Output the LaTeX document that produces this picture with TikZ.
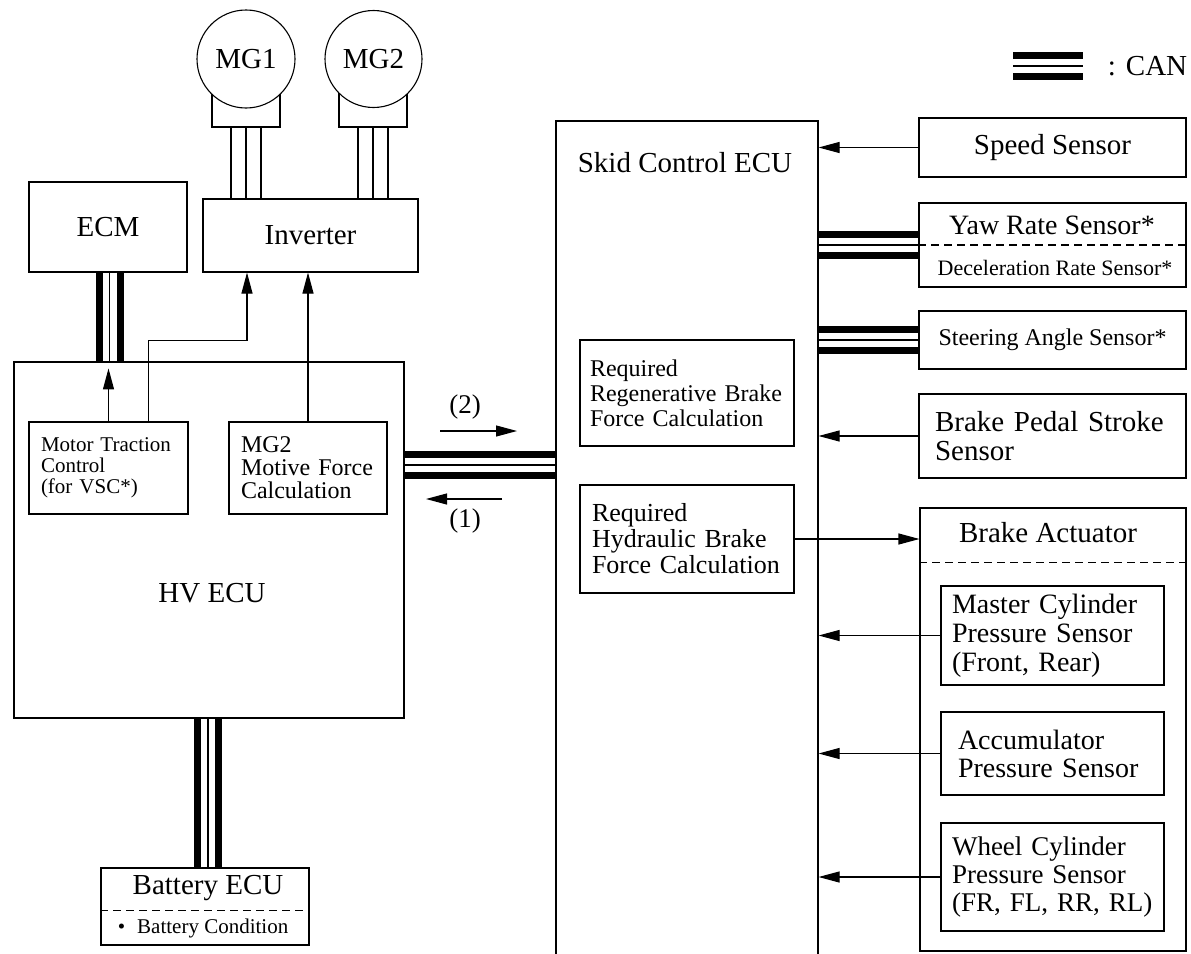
\documentclass[tikz,border=0pt]{standalone}
\usepackage{fontspec}
\setmainfont{Liberation Serif}
\usetikzlibrary{arrows.meta}
\tikzset{
  blk/.style={draw, line width=1.1pt, inner sep=0pt},
  fs/.style 2 args={font=\fontsize{#1}{#2}\selectfont},
  can/.style={line width=1.5pt, preaction={draw, line width=28pt}, preaction={draw, white, line width=14pt}},
  dashln/.style={line width=1.1pt, dash pattern=on 8pt off 5pt},
}
\begin{document}
\begin{tikzpicture}[x=1pt, y=-1pt, line width=1.1pt, >={Triangle[length=21pt,width=11pt]}]
  \useasboundingbox (0,0) rectangle (1191,953);

  \node[blk, minimum width=68pt, minimum height=47pt] (baseA) at (246,103.5) {};
  \node[blk, minimum width=68pt, minimum height=47pt] (baseB) at (373,103.5) {};
  \node[blk, circle, fill=white, minimum size=98pt, fs={29}{29}] (mgA) at (246,59) {MG1};
  \node[blk, circle, fill=white, minimum size=97pt, fs={29}{29}] (mgB) at (373.5,59) {MG2};
  \node[blk, minimum width=215pt, minimum height=73pt, fs={29}{29}] (inv) at (310.5,235.5) {Inverter};
  \foreach \m in {A,B}{
    \foreach \dx in {-15,0,15}{
      \draw ([xshift=\dx pt]base\m.south) -- ([xshift=\dx pt]base\m.south |- inv.north);
    }
  }

  \node[blk, minimum width=158pt, minimum height=90pt, fs={29}{29}] (ecm) at (108,227) {ECM};
  \node[blk, minimum width=390pt, minimum height=356pt] (hv) at (209,540) {};
  \node[fs={29}{29}] (hvT) at (212,593) {HV ECU};
  \node[blk, minimum width=159pt, minimum height=92pt, inner xsep=12pt, text width=135pt, align=left, fs={21}{21}] (mtc) at (108.5,468) {Motor Traction\\Control\\(for VSC*)};
  \node[blk, minimum width=158pt, minimum height=92pt, inner xsep=12pt, text width=134pt, align=left, fs={24}{23}] (mgf) at (308,468) {MG2\\Motive Force\\Calculation};

  \draw[can] ([xshift=1.5pt]ecm.south) -- ([xshift=1.5pt]ecm.south |- hv.north);
  \draw[->] (mtc.north) -- ([yshift=-7pt]mtc.north |- hv.north);
  \draw[->] ([xshift=40pt]mtc.north) -- ++(0,-81) -| ([xshift=-63.5pt]inv.south);
  \draw[->] (mgf.north) -- (mgf.north |- inv.south);

  \node[blk, minimum width=208pt, minimum height=77pt] (bat) at (205,906.5) {};
  \node[fs={29}{29}] (batT) at (208,888) {Battery ECU};
  \node[anchor=west, fs={21}{21}] (condT) at (114,928) {\textbullet\hspace{12pt}Battery Condition};
  \draw[dashln] ([yshift=-43pt]bat.north west) -- ([yshift=-43pt]bat.north east);
  \draw[can] ([xshift=3pt]bat.north) -- ([xshift=3pt]bat.north |- hv.south);

  \node[blk, minimum width=262pt, minimum height=859pt] (skid) at (687,550.5) {};
  \node[fs={29}{29}] (skidT) at (685,163) {Skid Control ECU};
  \node[blk, minimum width=214pt, minimum height=106pt, inner xsep=10pt, text width=194pt, align=left, fs={24}{25}] (regen) at (687,393) {Required\\Regenerative Brake\\Force Calculation};
  \node[blk, minimum width=214pt, minimum height=108pt, inner xsep=12pt, text width=190pt, align=left, fs={26}{26}] (hyd) at (687,539) {Required\\Hydraulic Brake\\Force Calculation};

  \coordinate (busY) at (0,465);
  \draw[can] (hv.east |- busY) -- (skid.west |- busY);
  \node[fs={27}{27}] (lblB) at (465,407) {(2)};
  \node[fs={27}{27}] (lblA) at (465,521) {(1)};
  \coordinate (twoS) at (440,431);
  \coordinate (twoE) at (517,431);
  \coordinate (oneS) at (502,499);
  \coordinate (oneE) at (426,499);
  \draw[->] (twoS) -- (twoE);
  \draw[->] (oneS) -- (oneE);

  \node[blk, minimum width=267pt, minimum height=59pt, fs={29}{29}] (speed) at (1052.5,147.5) {Speed Sensor};
  \draw[->] (speed.west) -- (speed.west -| skid.east);

  \node[blk, minimum width=267pt, minimum height=84pt] (yaw) at (1052.5,245) {};
  \node[fs={28}{28}] (yawT) at (1052,225) {Yaw Rate Sensor*};
  \node[fs={22}{22}] (decT) at (1055,268) {Deceleration Rate Sensor*};
  \draw[dashln] (yaw.west) -- (yaw.east);
  \draw[can] (yaw.west -| skid.east) -- (yaw.west);

  \node[blk, minimum width=267pt, minimum height=58pt, fs={24}{24}] (steer) at (1052.5,340) {Steering Angle Sensor*};
  \draw[can] (steer.west -| skid.east) -- (steer.west);

  \node[blk, minimum width=267pt, minimum height=84pt, inner xsep=16pt, text width=235pt, align=left, fs={29}{29}] (pedal) at (1052.5,436) {Brake Pedal Stroke\\Sensor};
  \draw[->] (pedal.west) -- (pedal.west -| skid.east);

  \node[blk, minimum width=266pt, minimum height=443pt] (act) at (1053,729.5) {};
  \node[fs={29}{29}] (actT) at (1048,533) {Brake Actuator};
  \draw[dashln] ([yshift=-55pt]act.north west) -- ([yshift=-55pt]act.north east);
  \draw[->] (hyd.east) -- (hyd.east -| act.west);

  \node[blk, minimum width=223pt, minimum height=99pt, inner xsep=11pt, text width=201pt, align=left, fs={28}{29}] (master) at (1052.5,635.5) {Master Cylinder\\Pressure Sensor\\(Front, Rear)};
  \node[blk, minimum width=223pt, minimum height=83pt, inner xsep=17pt, text width=189pt, align=left, fs={28}{28}] (accum) at (1052.5,753.5) {Accumulator\\Pressure Sensor};
  \node[blk, minimum width=223pt, minimum height=108pt, inner xsep=11pt, text width=201pt, align=left, fs={27}{28}] (wheel) at (1052.5,877) {Wheel Cylinder\\Pressure Sensor\\(FR,~FL,~RR,~RL)};
  \foreach \s in {master,accum,wheel}{
    \draw[->] (\s.west) -- (\s.west -| skid.east);
  }

  \coordinate (legA) at (1013,66);
  \coordinate (legB) at (1083,66);
  \draw[can] (legA) -- (legB);
  \node[anchor=west, fs={29}{29}] (legT) at (1104,66) {:\hspace{10pt}CAN};
\end{tikzpicture}
\end{document}
